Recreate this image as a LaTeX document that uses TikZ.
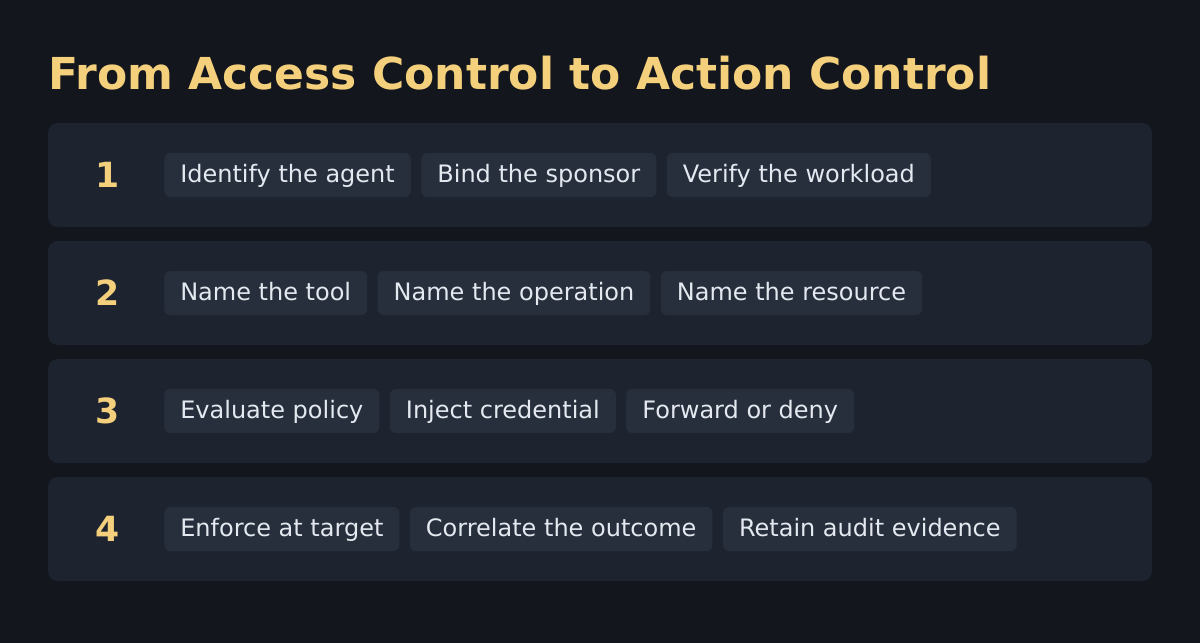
\documentclass[tikz,border=0pt]{standalone}
\usepackage{fontspec}
\setmainfont{DejaVu Sans}
\usetikzlibrary{positioning}
\definecolor{pagebg}{HTML}{13161D}
\definecolor{rowbg}{HTML}{1E2330}
\definecolor{chipbg}{HTML}{272F3D}
\definecolor{gold}{HTML}{F4D07C}
\definecolor{chiptext}{HTML}{E4E9F0}
\tikzset{
    rowbox/.style={fill=rowbg, rounded corners=7.5pt, minimum width=828pt, minimum height=78pt, inner sep=0pt},
    stepnum/.style={text=gold, font=\bfseries\fontsize{26}{30}\selectfont},
    chip/.style={fill=chipbg, rounded corners=4.5pt, text=chiptext, minimum height=33pt, inner xsep=12pt, inner ysep=0pt,
        text height=13pt, text depth=2.5pt, font=\fontsize{18}{22}\selectfont},
}

\begin{document}
\begin{tikzpicture}[x=0.75pt, y=-0.75pt]
    \fill[pagebg] (0,0) rectangle (1200,643);
    \useasboundingbox (0,0) rectangle (1200,643);

    \node[anchor=west, text=gold, font=\bfseries\fontsize{33}{40}\selectfont, inner sep=0pt] (title) at (48,73) {From Access Control to Action Control};

    % row 1
    \node[rowbox] (row1) at (600,175) {};
    \node[stepnum] (num1) at (108,175) {1};
    \node[chip, anchor=west] (agent) at (164,175) {Identify the agent};
    \node[chip, right=7.5pt of agent] (sponsor) {Bind the sponsor};
    \node[chip, right=7.5pt of sponsor] (workload) {Verify the workload};

    % row 2
    \node[rowbox] (row2) at (600,293) {};
    \node[stepnum] (num2) at (108,293) {2};
    \node[chip, anchor=west] (tool) at (164,293) {Name the tool};
    \node[chip, right=7.5pt of tool] (operation) {Name the operation};
    \node[chip, right=7.5pt of operation] (resource) {Name the resource};

    % row 3
    \node[rowbox] (row3) at (600,411) {};
    \node[stepnum] (num3) at (108,411) {3};
    \node[chip, anchor=west] (policy) at (164,411) {Evaluate policy};
    \node[chip, right=7.5pt of policy] (credential) {Inject credential};
    \node[chip, right=7.5pt of credential] (forward) {Forward or deny};

    % row 4
    \node[rowbox] (row4) at (600,529) {};
    \node[stepnum] (num4) at (108,529) {4};
    \node[chip, anchor=west] (enforce) at (164,529) {Enforce at target};
    \node[chip, right=7.5pt of enforce] (outcome) {Correlate the outcome};
    \node[chip, right=7.5pt of outcome] (audit) {Retain audit evidence};
\end{tikzpicture}
\end{document}
